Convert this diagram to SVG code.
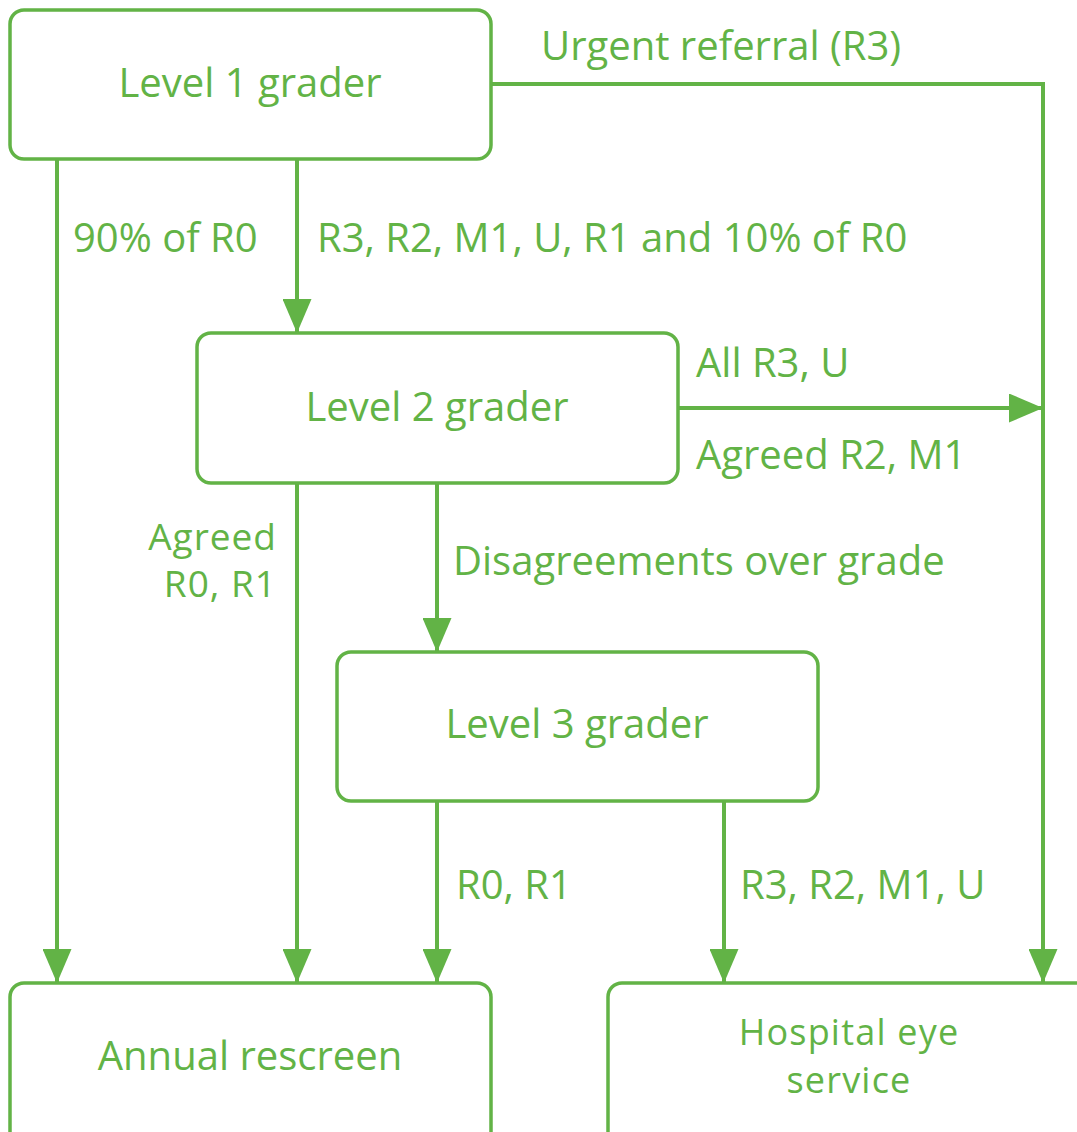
<svg xmlns="http://www.w3.org/2000/svg" width="1077" height="1132" viewBox="0 0 1077 1132">
  <defs>
    <marker id="arrow" viewBox="0 0 34 29" refX="34" refY="14.5" markerWidth="34" markerHeight="29" markerUnits="userSpaceOnUse" orient="auto">
      <path d="M0,0 L34,14.5 L0,29 Z" fill="#62b346"/>
    </marker>
    <style>
      .box { fill: #ffffff; stroke: #62b346; stroke-width: 3.5; }
      .line { fill: none; stroke: #62b346; stroke-width: 4; }
      text { font-family: "Open Sans", "Noto Sans", sans-serif; font-size: 40px; fill: #62b346; }
      .two { font-size: 37px; letter-spacing: 1px; }
      .svc { font-size: 36px; letter-spacing: 1.2px; }
      .c { text-anchor: middle; }
      .r { text-anchor: end; }
    </style>
  </defs>
  <rect width="1077" height="1132" fill="#ffffff"/>

  <g id="connectors">
    <line class="line" x1="57" y1="159" x2="57" y2="983" marker-end="url(#arrow)"/>
    <line class="line" x1="297" y1="159" x2="297" y2="333" marker-end="url(#arrow)"/>
    <polyline class="line" points="491,84 1043,84 1043,983" marker-end="url(#arrow)"/>
    <line class="line" x1="678" y1="408" x2="1043" y2="408" marker-end="url(#arrow)"/>
    <line class="line" x1="297" y1="483" x2="297" y2="983" marker-end="url(#arrow)"/>
    <line class="line" x1="437" y1="483" x2="437" y2="652" marker-end="url(#arrow)"/>
    <line class="line" x1="437" y1="801" x2="437" y2="983" marker-end="url(#arrow)"/>
    <line class="line" x1="724" y1="801" x2="724" y2="983" marker-end="url(#arrow)"/>
    <text x="541" y="60">Urgent referral (R3)</text>
    <text x="73" y="252">90% of R0</text>
    <text x="317" y="252">R3, R2, M1, U, R1 and 10% of R0</text>
    <text x="696" y="377">All R3, U</text>
    <text x="696" y="469">Agreed R2, M1</text>
    <text class="r two" x="277" y="550">Agreed</text>
    <text class="r two" x="277" y="597">R0, R1</text>
    <text x="453" y="575">Disagreements over grade</text>
    <text x="456" y="899">R0, R1</text>
    <text x="740" y="899">R3, R2, M1, U</text>
  </g>

  <g id="level1">
    <rect class="box" x="10" y="10" width="481" height="149" rx="14"/>
    <text class="c" x="250" y="97">Level 1 grader</text>
  </g>
  <g id="level2">
    <rect class="box" x="197" y="333" width="481" height="150" rx="14"/>
    <text class="c" x="437" y="421">Level 2 grader</text>
  </g>
  <g id="level3">
    <rect class="box" x="337" y="652" width="481" height="149" rx="14"/>
    <text class="c" x="577" y="738">Level 3 grader</text>
  </g>
  <g id="annual">
    <rect class="box" x="10" y="983" width="481" height="170" rx="14"/>
    <text class="c" x="250" y="1070">Annual rescreen</text>
  </g>
  <g id="hospital">
    <rect class="box" x="608" y="983" width="500" height="170" rx="14"/>
    <text class="c svc" x="849" y="1045">Hospital eye</text>
    <text class="c svc" x="849" y="1093">service</text>
  </g>
</svg>
